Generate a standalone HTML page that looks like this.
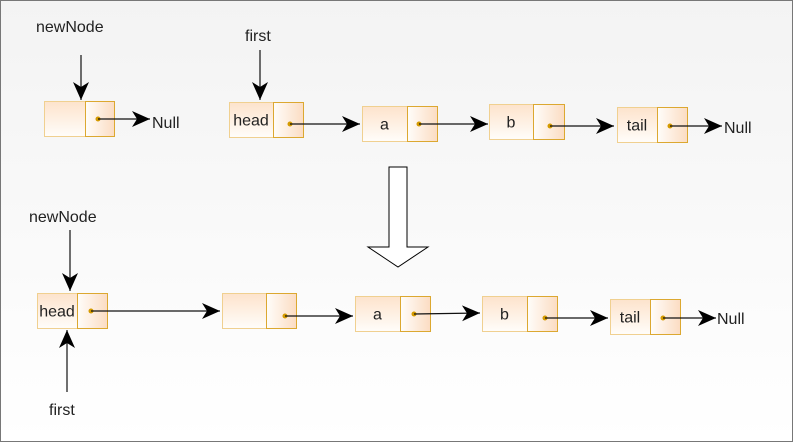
<!DOCTYPE html>
<html><head><meta charset="utf-8">
<style>
html,body{margin:0;padding:0;}
body{width:793px;height:442px;overflow:hidden;}
svg{display:block;font-family:"Liberation Sans",Arial,sans-serif;}
text{font-size:16px;fill:#222;}
</style></head>
<body>
<svg width="793" height="442" viewBox="0 0 793 442">
<defs>
<linearGradient id="bg" x1="0" y1="0" x2="0" y2="1"><stop offset="0" stop-color="#f3f3f3"/><stop offset="1" stop-color="#ffffff"/></linearGradient>
<linearGradient id="gl" x1="0" y1="0" x2="0" y2="1"><stop offset="0" stop-color="#fde3cc"/><stop offset="1" stop-color="#fffdfa"/></linearGradient>
<linearGradient id="gr" x1="0" y1="0" x2="1" y2="0"><stop offset="0" stop-color="#fffdfa"/><stop offset="1" stop-color="#fbdcc2"/></linearGradient>
<marker id="ah" markerWidth="20" markerHeight="16" refX="18" refY="8" orient="auto" markerUnits="userSpaceOnUse"><path d="M0,0 L18,8 L0,16 L5,8 Z" fill="#000"/></marker>
</defs>
<rect x="0.5" y="0.5" width="792" height="441" fill="url(#bg)" stroke="#777"/>
<g id="nodes"></g>
<g id="arrows"></g>
<g>
<path d="M389,167 L407,167 L407,247 L428,247 L398,267 L368,247 L389,247 Z" fill="#fff" stroke="#000" stroke-width="1"/>
</g>
<text x="36" y="32">newNode</text>
<text x="245" y="41">first</text>
<text x="152" y="128">Null</text>
<text x="724" y="133">Null</text>
<text x="29" y="222">newNode</text>
<text x="49" y="415">first</text>
<text x="717" y="324">Null</text>
</svg>
<script>
const nodes=[
 ["newnode-empty",44,101,70,35,85,"",98,119],
 ["node-head-top",229,102,74,35,273,"head",290,124],
 ["node-a-top",362,106,75,35,407,"a",419,124],
 ["node-b-top",489,104,75,35,533,"b",550,126],
 ["node-tail-top",617,107,70,35,657,"tail",670,126],
 ["node-head-bottom",37,293,70,35,77,"head",91,311],
 ["node-empty-bottom",222,293,74,35,266,"",285,316],
 ["node-a-bottom",355,296,75,35,400,"a",414,314],
 ["node-b-bottom",482,296,75,35,527,"b",545,318],
 ["node-tail-bottom",610,299,70,35,650,"tail",663,318]
];
const arrows=[
 [81,55,81,100],[260,50,260,100],
 [98,119,150,119],[290,124,360,124],[419,124,488,124],[550,126,614,126],[670,126,722,126],
 [70,230,70,291],[67,392,67,330],
 [91,311,220,311],[285,316,353,316],[414,314,480,313],[545,318,608,318],[663,318,716,318]
];
const NS="http://www.w3.org/2000/svg";
const ng=document.getElementById("nodes");
nodes.forEach(n=>{
 const [name,x,y,w,h,s,label,dx,dy]=n;
 const g=document.createElementNS(NS,"g");
 
 
 g.innerHTML=`<rect x="${x+.5}" y="${y+.5}" width="${s-x}" height="${h}" fill="url(#gl)" stroke="#f0d090"/>
<rect x="${s+.5}" y="${y+.5}" width="${x+w-s}" height="${h}" fill="url(#gr)" stroke="#dca830"/>
<circle cx="${dx}" cy="${dy}" r="2.5" fill="#d49a00"/>`+
 (label?`<text x="${(x+s)/2}" y="${y+h/2+6}" text-anchor="middle">${label}</text>`:"");
 ng.appendChild(g);
});
const ag=document.getElementById("arrows");
arrows.forEach((a,i)=>{
 const l=document.createElementNS(NS,"line");
 
 
 l.setAttribute("x1",a[0]);l.setAttribute("y1",a[1]);l.setAttribute("x2",a[2]);l.setAttribute("y2",a[3]);
 l.setAttribute("stroke","#111");l.setAttribute("stroke-width","1.2");l.setAttribute("marker-end","url(#ah)");
 ag.appendChild(l);
});
</script>
</body></html>
